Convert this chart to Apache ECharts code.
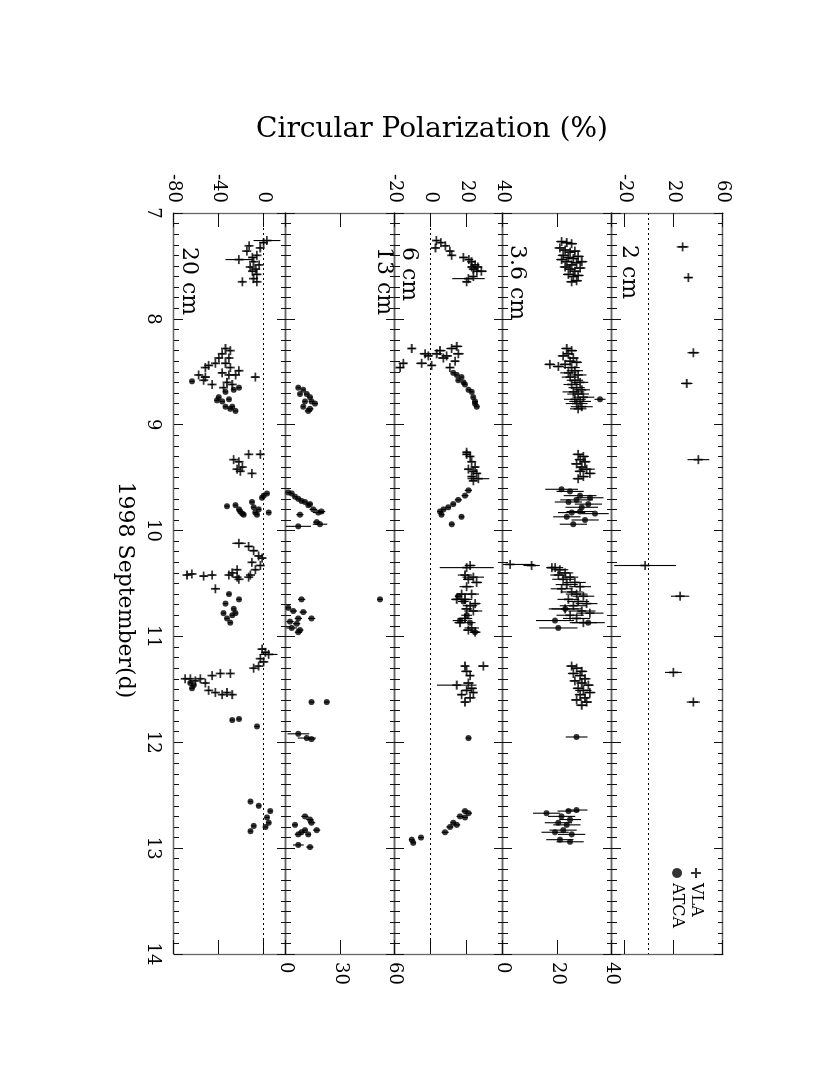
<!DOCTYPE html>
<html>
<head>
<meta charset="utf-8">
<script src="https://cdn.jsdelivr.net/npm/echarts@6/dist/echarts.min.js"></script>
<style>
  html, body { margin: 0; padding: 0; background: #fff; overflow: hidden; }
  /* the chart is drawn landscape and turned a quarter turn clockwise */
  #chart {
    position: absolute; left: 0; top: 0;
    width: 1074px; height: 830px;
    transform-origin: 0 0;
    transform: translate(830px, 0) rotate(90deg);
  }
</style>
</head>
<body>
<div id="chart"></div>
<script>
// [day, circular polarization %, error]
const vla2 = [[7.32, 27.3, 4.7], [7.61, 31.9, 3.4], [8.32, 36, 4.7], [8.61, 30.6, 4.7], [9.33, 40, 8.8],
  [10.33, -3.2, 25], [10.62, 25.2, 7.4], [11.34, 19.8, 6.8], [11.62, 36, 5.4]]

const vla36 = [
  [7.27, 21.5, 2], [7.28, 23.4, 2], [7.29, 25.2, 2], [7.33, 20.9, 2], [7.35, 22.8, 2], [7.36, 26.4, 2], [7.37, 24.6, 2],
  [7.40, 22.1, 2], [7.41, 27.6, 2], [7.42, 24.0, 2], [7.43, 25.8, 2], [7.44, 21.5, 2], [7.46, 23.4, 2], [7.47, 27.0, 2],
  [7.49, 25.2, 2], [7.46, 28.9, 2], [7.51, 22.8, 2], [7.52, 28.3, 2], [7.53, 24.6, 2], [7.55, 26.4, 2], [7.58, 24.0, 2],
  [7.59, 27.6, 2], [7.60, 25.8, 2], [7.64, 27.0, 2], [7.65, 25.2, 2],
  [8.28, 23.4, 2], [8.30, 25.2, 2], [8.33, 24.0, 2], [8.35, 22.1, 2], [8.37, 25.8, 2], [8.40, 24.6, 2], [8.41, 27.0, 2],
  [8.43, 22.8, 2], [8.43, 17.2, 2], [8.45, 20.3, 2], [8.46, 25.2, 3], [8.49, 26.4, 3], [8.51, 24.0, 3], [8.53, 27.6, 3],
  [8.55, 24.6, 3], [8.58, 26.4, 3], [8.60, 28.3, 3], [8.62, 25.2, 3], [8.65, 27.0, 3], [8.67, 28.9, 3], [8.69, 25.8, 4],
  [8.71, 27.6, 4], [8.74, 29.5, 4], [8.76, 26.4, 4], [8.78, 28.3, 4], [8.80, 27.0, 4], [8.83, 28.9, 4], [8.85, 27.6, 3],
  [9.28, 27.6, 2], [9.30, 29.5, 2], [9.33, 28.3, 2], [9.35, 30.1, 2], [9.37, 27.0, 2], [9.40, 28.9, 2], [9.42, 30.7, 3],
  [9.44, 28.3, 2], [9.46, 31.9, 2], [9.49, 29.5, 2], [9.51, 27.6, 2],
  [10.32, 2.6, 9], [10.33, 10.5, 3], [10.35, 17.9, 2], [10.35, 19.1, 3], [10.37, 20.9, 3], [10.40, 22.8, 3], [10.42, 20.3, 3],
  [10.44, 24.6, 3], [10.46, 22.1, 4], [10.49, 26.4, 4], [10.51, 23.4, 4], [10.53, 28.3, 4], [10.55, 21.5, 4], [10.58, 25.2, 4],
  [10.60, 27.0, 4], [10.62, 29.5, 4], [10.65, 24.0, 4], [10.67, 27.6, 4], [10.69, 30.7, 4], [10.71, 25.8, 5], [10.74, 22.8, 5],
  [10.76, 28.9, 5], [10.78, 31.9, 5], [10.80, 24.6, 5], [10.83, 27.0, 5], [10.87, 29.5, 5],
  [11.28, 25.2, 2], [11.30, 27.0, 2], [11.33, 28.9, 2], [11.35, 25.8, 2], [11.37, 28.3, 2], [11.40, 30.1, 2], [11.42, 26.4, 2],
  [11.44, 28.9, 2], [11.46, 31.3, 2], [11.49, 27.6, 2], [11.51, 29.5, 3], [11.53, 31.9, 2], [11.55, 28.3, 2], [11.58, 30.1, 2],
  [11.60, 27.0, 2], [11.62, 30.7, 2], [11.65, 28.9, 2]
]
const atca36 = [
  [8.76, 35.6, 2],
  [9.61, 21.5, 6], [9.63, 24.6, 5], [9.67, 28.3, 6], [9.69, 31.9, 5], [9.71, 27.0, 6], [9.73, 24.0, 5], [9.75, 31.3, 5],
  [9.78, 28.9, 6], [9.82, 28.3, 5], [9.83, 25.2, 5], [9.84, 33.8, 5], [9.87, 23.4, 5], [9.90, 30.1, 5], [9.94, 25.8, 5],
  [10.74, 22.8, 6], [10.85, 19.1, 7], [10.87, 31.3, 6], [10.92, 20.3, 7],
  [11.95, 27.0, 4],
  [12.64, 27.0, 4], [12.65, 24.0, 4], [12.67, 16.0, 5], [12.70, 21.5, 5], [12.73, 24.6, 4], [12.76, 20.3, 5], [12.78, 23.4, 5],
  [12.83, 22.1, 5], [12.85, 19.1, 5], [12.87, 25.2, 5], [12.92, 20.9, 5], [12.94, 24.6, 5]
]

const vla6 = [
  [7.26, 3, 1.5], [7.28, 5.5, 1.5], [7.31, 8, 1.5], [7.33, 2.5, 1.5], [7.36, 10.5, 1.5], [7.40, 11.5, 1.5], [7.42, 18, 2],
  [7.44, 21, 2], [7.46, 22.5, 2], [7.49, 24.5, 2], [7.51, 26, 2], [7.51, 22.6, 2], [7.53, 23.5, 2], [7.55, 25.5, 2],
  [7.55, 28, 3], [7.60, 23.5, 2], [7.62, 20.8, 9], [7.65, 19.8, 2],
  [8.26, 14.3, 3], [8.28, -10.7, 2], [8.28, 11.5, 3], [8.30, 5, 3], [8.33, -3.3, 3], [8.33, 3.2, 3], [8.33, 15.2, 3],
  [8.35, -1.5, 2], [8.35, 8.7, 3], [8.37, 6.9, 3], [8.40, 13.4, 2], [8.42, -15.4, 2], [8.42, -5.2, 3], [8.44, 0.4, 2],
  [8.46, -17.2, 2], [8.46, 10.5, 2],
  [9.26, 19.8, 2], [9.28, 19.8, 2], [9.30, 21.7, 2], [9.35, 22.6, 2], [9.40, 24.5, 2], [9.42, 20.8, 2], [9.44, 23.5, 2],
  [9.46, 25.4, 2], [9.49, 22.6, 2], [9.51, 26.3, 6], [9.53, 23.5, 2],
  [10.33, 21.7, 3], [10.35, 19.8, 15], [10.42, 18.9, 4], [10.44, 23.5, 6], [10.46, 20.8, 3], [10.49, 25.4, 3], [10.53, 19.8, 4],
  [10.60, 17, 3], [10.60, 22.6, 4], [10.65, 14.3, 3], [10.65, 18.9, 4], [10.69, 24.5, 3], [10.71, 21.7, 4], [10.74, 19.8, 3],
  [10.76, 23.5, 5], [10.83, 18.9, 4], [10.87, 16.1, 3], [10.92, 22.6, 4], [10.94, 20.8, 3], [10.96, 24.5, 3],
  [11.28, 18.9, 2], [11.28, 29.1, 3], [11.33, 19.8, 3], [11.37, 21.7, 2], [11.44, 20.8, 3], [11.46, 14.3, 11], [11.49, 22.6, 3],
  [11.51, 19.8, 3], [11.53, 23.5, 2], [11.55, 17, 2], [11.58, 21.7, 3], [11.62, 18.9, 2]
]
const atca6 = [
  [8.51, 12.4, 1], [8.53, 14.3, 1], [8.55, 17, 1], [8.58, 15.2, 1], [8.60, 18, 1], [8.62, 18.9, 1], [8.67, 20.8, 1],
  [8.69, 22.6, 1], [8.74, 23.5, 1], [8.78, 24.5, 1.5], [8.80, 24.5, 1], [8.83, 25.4, 1.5],
  [9.62, 20.8, 2], [9.67, 18.9, 2], [9.71, 15.2, 2], [9.75, 12.4, 1.5], [9.78, 9.6, 1.5], [9.80, 6.9, 1.5], [9.82, 5, 1.5],
  [9.85, 5.9, 1.5], [9.87, 17, 1.5], [9.94, 11.5, 1.5],
  [10.62, 15.2, 2], [10.67, 18, 3], [10.80, 19.8, 3], [10.85, 16.1, 4], [10.87, 21.7, 3], [10.96, 24.5, 2],
  [11.96, 20.8, 1.5],
  [12.65, 18.9, 2], [12.67, 20.8, 2], [12.70, 16.1, 2], [12.71, 18.9, 1.5], [12.76, 12.4, 1.5], [12.78, 14.3, 2],
  [12.80, 10.5, 2], [12.85, 7.8, 2],
  [12.90, -5.6, 1.5], [12.92, -10.7, 1.5], [12.95, -9.8, 1.5]
]

const atca13 = [
  [8.65, 6.8, 1], [8.67, 9.5, 1], [8.71, 11.4, 1.5], [8.71, 7.7, 1], [8.74, 13.2, 1.5], [8.78, 10.4, 1], [8.78, 14.1, 1.5],
  [8.80, 15.9, 1.5], [8.83, 9.5, 1], [8.85, 13.2, 2], [8.87, 12.3, 2],
  [9.64, 1.3, 1], [9.65, 3.1, 1], [9.68, 5, 1], [9.70, 6.8, 1.5], [9.72, 8.6, 1], [9.73, 10.4, 1.5], [9.75, 13.2, 1.5],
  [9.76, 12.3, 1], [9.80, 15, 2], [9.82, 19.6, 2], [9.83, 17.8, 3], [9.85, 7.7, 2], [9.92, 16.9, 2], [9.94, 18.7, 4],
  [9.96, 6.8, 7],
  [10.65, 51.7, 1.5],
  [10.65, 8.6, 2], [10.73, 1.3, 1.5], [10.76, 4, 2], [10.77, 9.5, 2], [10.83, 14.1, 2], [10.83, 6.8, 2], [10.86, 2.2, 2],
  [10.88, 5.9, 2], [10.92, 3.1, 3], [10.94, 7.7, 2], [10.96, 6.8, 2],
  [11.62, 14.1, 1.5], [11.62, 22.4, 1.5], [11.92, 6.8, 6], [11.96, 11.4, 5], [11.97, 14.1, 2],
  [12.70, 10.4, 2], [12.73, 13.2, 2], [12.76, 14.1, 2], [12.78, 5, 1.5], [12.83, 10.4, 1.5], [12.83, 16.9, 2],
  [12.85, 8.6, 2], [12.87, 6.8, 2], [12.87, 12.3, 1.5], [12.97, 6.8, 3], [12.99, 13.2, 2]
]

const vla20 = [
  [7.26, 3, 12], [7.28, 0, 3], [7.31, -13, 2], [7.33, -3, 2], [7.36, -15, 2], [7.40, -6, 2], [7.42, -10, 3], [7.44, -22, 12],
  [7.46, -9, 2], [7.49, -4, 2], [7.51, -12, 2], [7.53, -7, 2], [7.55, -10, 2], [7.58, -6, 3], [7.62, -9, 2], [7.65, -19, 2],
  [7.65, -6, 2],
  [8.28, -34, 2], [8.30, -29.7, 2], [8.33, -37, 2], [8.37, -31, 2], [8.37, -40, 2], [8.42, -43, 2], [8.42, -34, 3],
  [8.44, -49, 3], [8.46, -52, 2], [8.46, -29.7, 2], [8.49, -22, 2], [8.51, -37, 3], [8.53, -58, 2], [8.55, -52, 4],
  [8.55, -7.4, 3], [8.53, -25, 2], [8.53, -31, 2], [8.62, -46, 2], [8.58, -53.5, 2], [8.60, -32.7, 2], [8.62, -28, 2],
  [8.65, -35.7, 2],
  [9.28, -13.3, 2], [9.28, -2.9, 3], [9.35, -22, 3], [9.33, -26.7, 2], [9.40, -19, 2], [9.42, -23.7, 2], [9.44, -20.8, 2],
  [9.46, -10.4, 2],
  [10.12, -22, 6], [10.15, -13.3, 3], [10.19, -8.9, 3], [10.24, -4.4, 3], [10.26, -1.4, 3], [10.30, -10.4, 2], [10.33, -2.9, 3],
  [10.37, -7.4, 2], [10.42, -11.8, 2], [10.44, -13.3, 2], [10.37, -23.7, 2], [10.40, -28, 2], [10.42, -31, 2], [10.44, -23.7, 2],
  [10.46, -22, 2], [10.42, -46, 2], [10.43, -53.5, 3], [10.55, -43, 2], [10.41, -64, 2], [10.42, -68.4, 2],
  [11.12, -1.4, 3], [11.15, 1.6, 3], [11.17, 4.5, 8], [11.21, -2.9, 2], [11.24, 0.1, 3], [11.28, -4.4, 2], [11.30, -8.9, 2],
  [11.35, -38.6, 2], [11.35, -29.7, 2], [11.37, -46, 2], [11.40, -70, 2], [11.40, -65.4, 2], [11.42, -61, 2], [11.40, -56.5, 2],
  [11.44, -52, 2], [11.51, -49, 2], [11.53, -43, 2], [11.53, -32.7, 2], [11.55, -37, 2], [11.55, -28, 2]
]
const atca20 = [
  [8.59, -64, 2], [8.65, -22, 2], [8.67, -26.7, 2], [8.69, -34, 2], [8.74, -40, 2], [8.77, -41.6, 2], [8.78, -37, 2],
  [8.76, -31, 2], [8.83, -34, 2], [8.85, -29.7, 2], [8.87, -25, 2], [8.83, -28, 2],
  [9.65, 3, 2], [9.67, 0.1, 2], [9.69, -1.4, 2], [9.73, -10.4, 2], [9.76, -25, 2], [9.77, -32.7, 2], [9.78, -8.9, 2],
  [9.80, -22, 2], [9.80, -4.4, 2], [9.82, -20.8, 2], [9.83, -7.4, 2], [9.83, 4.5, 2], [9.84, -19, 2], [9.85, -17.8, 2],
  [9.85, -5.9, 2],
  [10.60, -31, 2], [10.65, -22, 2], [10.69, -34, 2], [10.74, -26.7, 2], [10.78, -25, 2], [10.78, -35.7, 2], [10.80, -28, 2],
  [10.83, -32.7, 2], [10.87, -29.7, 2],
  [11.44, -65.4, 2], [11.46, -62.4, 2], [11.49, -64, 2], [11.78, -22, 2], [11.79, -28, 2], [11.85, -5.9, 2],
  [12.56, -11.8, 2], [12.60, -4.4, 2], [12.65, 6, 2], [12.71, 3, 2], [12.76, 4.5, 2], [12.79, -8.9, 2], [12.80, 1.6, 2],
  [12.84, -11.8, 2]
]

// axis values
const dayMin = 7
const dayMax = 14
const ticks2 = [-20, 20, 60]
const ticks36 = [0, 20, 40]
const ticks6 = [-20, 0, 20, 40]
const ticks13 = [0, 30, 60]
const ticks20 = [-80, -40, 0]

const FONT = "'DejaVu Serif', serif"
const PLUS = 'path://M4,0H6V4H10V6H6V10H4V6H0V4H4Z'

// panels top to bottom (in the unrotated frame)
const panels = [
  { label: '2 cm', top: 107, height: 111, min: -30, max: 60, ticks: ticks2, side: 'left', zero: true, vla: vla2, atca: null },
  { label: '3.6 cm', top: 218, height: 109, min: 0, max: 40, ticks: ticks36, side: 'right', zero: false, vla: vla36, atca: atca36 },
  { label: '6 cm', top: 327, height: 108, min: -20, max: 40, ticks: ticks6, side: 'left', zero: true, vla: vla6, atca: atca6 },
  { label: '13 cm', top: 435, height: 109, min: 0, max: 60, ticks: ticks13, side: 'right', zero: false, vla: null, atca: atca13 },
  { label: '20 cm', top: 544, height: 112, min: -80, max: 20, ticks: ticks20, side: 'left', zero: true, vla: vla20, atca: atca20 },
]

const lineCol = '#666'
const tickCol = '#111'

const grid = []
const xAxis = []
const yAxis = []
const series = []

function errorBars(data, idx) {
  return {
    type: 'custom',
    xAxisIndex: idx * 2,
    yAxisIndex: idx * 2,
    data: data,
    encode: { x: 0, y: 1 },
    silent: true,
    clip: true,
    renderItem: function (params, api) {
      const d = api.value(0)
      const v = api.value(1)
      const e = api.value(2)
      const a = api.coord([d, v - e])
      const b = api.coord([d, v + e])
      return {
        type: 'line',
        shape: { x1: a[0], y1: a[1], x2: b[0], y2: b[1] },
        style: { stroke: '#000', lineWidth: 1.1 },
      }
    },
  }
}

const zeroLine = {
  silent: true,
  symbol: ['none', 'none'],
  label: { show: false },
  lineStyle: { type: [2, 3], color: '#000', width: 1 },
  data: [{ yAxis: 0 }],
}

panels.forEach(function (p, i) {
  grid.push({ left: 213, right: 120, top: p.top, height: p.height })
  ;['bottom', 'top'].forEach(function (pos) {
    xAxis.push({
      type: 'value', gridIndex: i, position: pos,
      min: dayMin, max: dayMax, interval: 1,
      axisLine: { show: true, onZero: false, lineStyle: { color: lineCol, width: 1.3 } },
      axisTick: { show: true, inside: true, length: 9, lineStyle: { color: tickCol } },
      minorTick: { show: true, splitNumber: 10, length: 5, lineStyle: { color: tickCol } },
      splitLine: { show: false },
      axisLabel: {
        show: i === panels.length - 1 && pos === 'bottom',
        margin: 12, fontFamily: FONT, fontSize: 18, color: '#000',
      },
    })
  })
  ;['left', 'right'].forEach(function (pos) {
    yAxis.push({
      type: 'value', gridIndex: i, position: pos,
      min: p.min, max: p.max,
      axisLine: { show: true, onZero: false, lineStyle: { color: lineCol, width: 1.3 } },
      axisTick: { show: true, inside: true, length: 14, customValues: p.ticks, lineStyle: { color: tickCol } },
      splitLine: { show: false },
      axisLabel: {
        show: pos === p.side, customValues: p.ticks,
        margin: pos === 'left' ? 10 : 8, fontFamily: FONT, fontSize: 18, color: '#000',
      },
    })
  })
  let marked = false
  if (p.vla) {
    series.push(errorBars(p.vla, i))
    series.push({
      name: 'VLA', type: 'scatter', xAxisIndex: i * 2, yAxisIndex: i * 2,
      data: p.vla, symbol: PLUS, symbolSize: 9,
      itemStyle: { color: '#000' },
      markLine: p.zero ? zeroLine : undefined,
    })
    marked = p.zero
  }
  if (p.atca) {
    series.push(errorBars(p.atca, i))
    series.push({
      name: 'ATCA', type: 'scatter', xAxisIndex: i * 2, yAxisIndex: i * 2,
      data: p.atca, symbol: 'circle', symbolSize: 6,
      itemStyle: { color: '#000' },
      markLine: p.zero && !marked ? zeroLine : undefined,
    })
  }
})

const chart = echarts.init(document.getElementById('chart'), null, { renderer: 'canvas' })
chart.setOption({
  animation: false,
  backgroundColor: '#fff',
  color: ['#000'],
  grid: grid,
  xAxis: xAxis,
  yAxis: yAxis,
  series: series,
  legend: {
    orient: 'vertical', left: 863, top: 121,
    itemWidth: 10, itemHeight: 10, itemGap: 3,
    textStyle: { fontFamily: FONT, fontSize: 16, color: '#000' },
    data: [{ name: 'VLA', icon: PLUS }, { name: 'ATCA', icon: 'circle' }],
  },
  graphic: [
    {
      type: 'text', x: 130, y: 398, rotation: Math.PI / 2,
      style: { text: 'Circular Polarization (%)', font: '28px ' + FONT, fill: '#000',
        textAlign: 'center', textVerticalAlign: 'middle', align: 'center', verticalAlign: 'middle' },
    },
    {
      type: 'text', x: 590, y: 705,
      style: { text: '1998 September(d)', font: '22px ' + FONT, fill: '#000',
        textAlign: 'center', textVerticalAlign: 'middle', align: 'center', verticalAlign: 'middle' },
    },
    { type: 'text', x: 245, y: 201, style: { text: '2 cm', font: '22px ' + FONT, fill: '#000', verticalAlign: 'middle', textVerticalAlign: 'middle' } },
    { type: 'text', x: 245, y: 313, style: { text: '3.6 cm', font: '22px ' + FONT, fill: '#000', verticalAlign: 'middle', textVerticalAlign: 'middle' } },
    { type: 'text', x: 247, y: 421, style: { text: '6 cm', font: '22px ' + FONT, fill: '#000', verticalAlign: 'middle', textVerticalAlign: 'middle' } },
    { type: 'text', x: 247, y: 446, style: { text: '13 cm', font: '22px ' + FONT, fill: '#000', verticalAlign: 'middle', textVerticalAlign: 'middle' } },
    { type: 'text', x: 247, y: 641, style: { text: '20 cm', font: '22px ' + FONT, fill: '#000', verticalAlign: 'middle', textVerticalAlign: 'middle' } },
  ],
})
</script>
</body>
</html>
